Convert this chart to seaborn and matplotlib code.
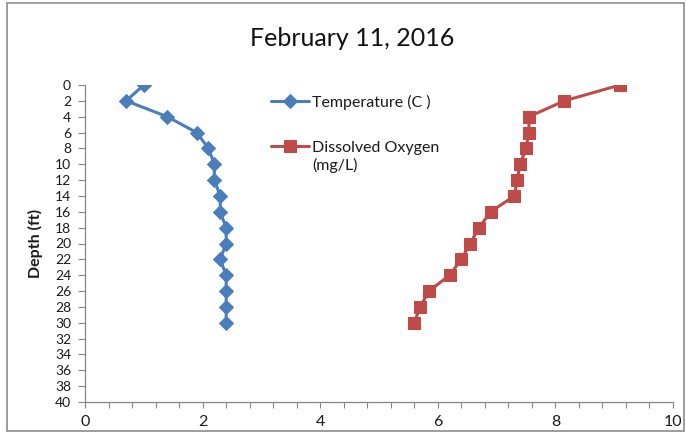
import matplotlib
matplotlib.use("Agg")
import matplotlib.pyplot as plt
import matplotlib.patches as mpatches
from matplotlib.ticker import MultipleLocator
import seaborn as sns
import pandas as pd

depth = [0, 2, 4, 6, 8, 10, 12, 14, 16, 18, 20, 22, 24, 26, 28, 30]
temperature = [1.0, 0.7, 1.4, 1.9, 2.1, 2.2, 2.2, 2.3, 2.3, 2.4, 2.4, 2.3, 2.4, 2.4, 2.4, 2.4]
dissolved_oxygen = [9.1, 8.15, 7.55, 7.55, 7.5, 7.4, 7.35, 7.3, 6.9, 6.7, 6.55, 6.4, 6.2, 5.85, 5.7, 5.6]

title = "February 11, 2016"
temp_label = "Temperature (C )"
do_label = "Dissolved Oxygen"
do_unit = "(mg/L)"
y_label = "Depth (ft)"

sns.set_theme(style="white")
plt.rcParams["font.family"] = ["Lato", "DejaVu Sans"]

df_t = pd.DataFrame({"value": temperature, "depth": depth})
df_o = pd.DataFrame({"value": dissolved_oxygen, "depth": depth})

fig = plt.figure(figsize=(6.86, 4.34), dpi=100)
fig.patch.set_facecolor("white")
ax = fig.add_axes([85 / 686, 1 - 402 / 434, 588 / 686, 317 / 434])

blue = "#4A7EBB"
red = "#BE4B48"

sns.lineplot(data=df_t, x="value", y="depth", orient="y", sort=False, estimator=None,
             color=blue, linewidth=2.2, marker="D", markersize=7.5,
             markeredgecolor=blue, markerfacecolor=blue, label=temp_label, ax=ax)
sns.lineplot(data=df_o, x="value", y="depth", orient="y", sort=False, estimator=None,
             color=red, linewidth=2.2, marker="s", markersize=8.5,
             markeredgecolor=red, markerfacecolor=red, label=do_label, ax=ax)

ax.set_xlim(0, 10)
ax.set_ylim(40, 0)
ax.xaxis.set_major_locator(MultipleLocator(2))
ax.xaxis.set_minor_locator(MultipleLocator(0.4))
ax.yaxis.set_major_locator(MultipleLocator(2))

for s in ["top", "right"]:
    ax.spines[s].set_visible(False)
for s in ["left", "bottom"]:
    ax.spines[s].set_color("#868686")
    ax.spines[s].set_linewidth(0.9)

ax.tick_params(axis="x", which="both", direction="out", length=4, width=0.8,
               color="#868686", labelsize=11.5, pad=5, labelcolor="#1a1a1a", bottom=True)
ax.tick_params(axis="y", which="major", direction="out", length=5, width=0.8,
               color="#868686", labelsize=10, pad=5, labelcolor="#1a1a1a", left=True)

ax.set_xlabel("")
ax.set_ylabel(y_label, fontsize=11.5, fontweight="bold", color="#1a1a1a")
ax.yaxis.set_label_coords(-0.072, 0.5)

leg = ax.legend(loc="upper left", bbox_to_anchor=(0.305, 0.99), frameon=False,
                fontsize=11.5, labelspacing=1.95, handlelength=2.4, handletextpad=0.2,
                numpoints=1, borderaxespad=0.0)
for t in leg.get_texts():
    t.set_color("#1a1a1a")

ann = ax.annotate(do_unit, xy=(0, 0), xycoords=leg.get_texts()[1], xytext=(0, -2),
                  textcoords="offset points", ha="left", va="top", fontsize=11.5,
                  color="#1a1a1a", zorder=20, annotation_clip=False)

fig.text(0.514, 0.912, title, ha="center", va="center", fontsize=18, color="#111111")

fig.patches.append(mpatches.Rectangle((7 / 686, 3 / 434), 677 / 686, 428 / 434,
                                      transform=fig.transFigure, fill=False,
                                      edgecolor="#8c8c8c", linewidth=1.2))

fig.savefig("out.png", dpi=100)
